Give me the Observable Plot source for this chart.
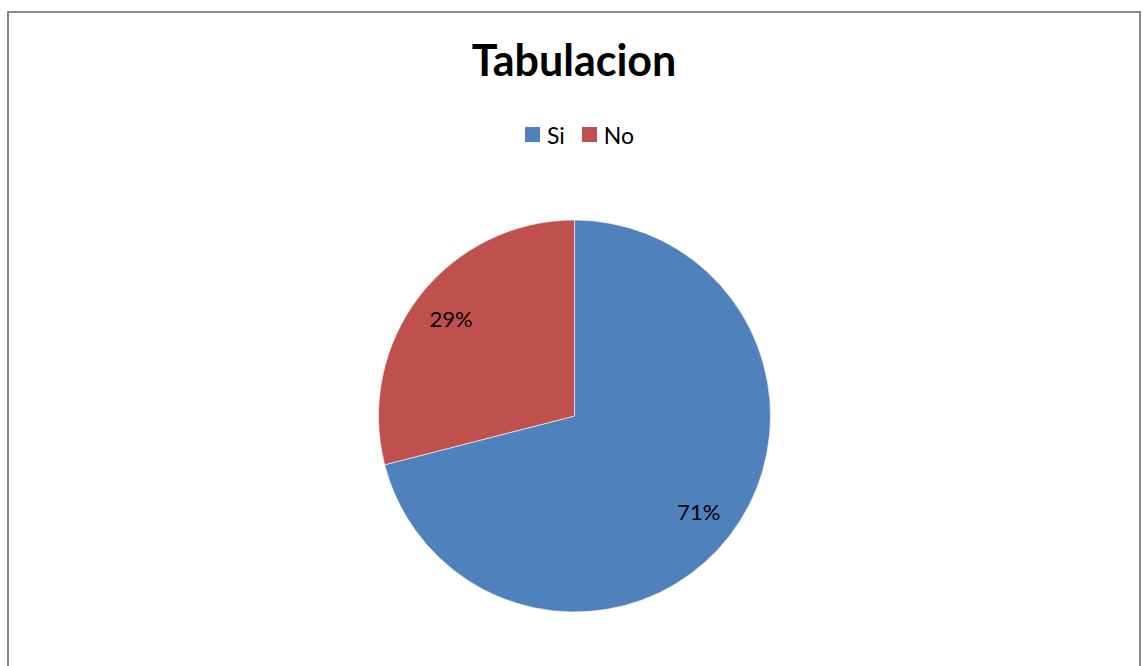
<!DOCTYPE html>
<html>
<head>
<meta charset="utf-8">
<script src="https://cdn.jsdelivr.net/npm/d3@7"></script>
<script src="https://cdn.jsdelivr.net/npm/@observablehq/plot@0.6"></script>
<style>
  html, body { margin: 0; padding: 0; background: #fff; }
  #page { position: relative; width: 1144px; height: 666px; overflow: hidden; background: #fff; }
  #frame { position: absolute; left: 7px; top: 11px; width: 1130px; height: 700px; border: 2px solid #898989; }
  #title { position: absolute; left: 0; width: 1148px; top: 36px; text-align: center; font-family: Lato, sans-serif; font-weight: bold; font-size: 43px; line-height: 48px; color: #000; }
  #legend { position: absolute; left: 0; width: 1176px; top: 118px; display: flex; justify-content: center; }
  #legend [class$="-swatch"] { margin-right: 17px !important; }
  #legend [class$="-swatch"] > svg { margin-right: 7px !important; }
  #chart { position: absolute; left: 0; top: 160px; }
</style>
</head>
<body>
<div id="page">
  <div id="frame"></div>
  <div id="title">Tabulacion</div>
  <div id="legend"></div>
  <div id="chart"></div>
</div>
<script>
const categories = ["Si", "No"];
const values = [71, 29];
const labels = ["71%", "29%"];
const colors = ["#4F81BD", "#C0504D"];

const rows = categories.map((c, i) => ({cat: c, value: values[i], label: labels[i]}));
const arcs = d3.pie().sort(null).value(d => d.value)(rows);
const labelRows = arcs.map(a => {
  const mid = (a.startAngle + a.endAngle) / 2;
  return {label: a.data.label, x: 0.8 * Math.sin(mid), y: 0.8 * Math.cos(mid)};
});

const colorOpts = {type: "ordinal", domain: categories, range: colors};
const color = Plot.scale({color: colorOpts});

const legend = Plot.legend({
  color: colorOpts,
  swatchSize: 15,
  style: {fontFamily: "Lato, sans-serif", fontSize: "23px", color: "#000", margin: 0}
});
document.getElementById("legend").append(legend);

const cy = 256, cx = 574.5, R = 196;
const chart = Plot.plot({
  width: 1144,
  height: 506,
  margin: 0,
  x: {domain: [-1, 1], range: [cx - R, cx + R], axis: null},
  y: {domain: [-1, 1], range: [cy + R, cy - R], axis: null},
  style: {background: "transparent", fontFamily: "Lato, sans-serif"},
  marks: [
    (index, scales, channels, dimensions) => {
      const x0 = scales.x(0), y0 = scales.y(0), r = scales.x(1) - scales.x(0);
      const g = d3.create("svg:g").attr("transform", `translate(${x0},${y0})`);
      g.selectAll("path").data(arcs).join("path")
        .attr("d", d3.arc().innerRadius(0).outerRadius(r))
        .attr("fill", d => color.apply(d.data.cat))
        .attr("stroke", "#fff")
        .attr("stroke-width", 0.6);
      return g.node();
    },
    Plot.text(labelRows, {x: "x", y: "y", text: "label", fontSize: 22, fill: "#000"})
  ]
});
document.getElementById("chart").append(chart);
</script>
</body>
</html>
